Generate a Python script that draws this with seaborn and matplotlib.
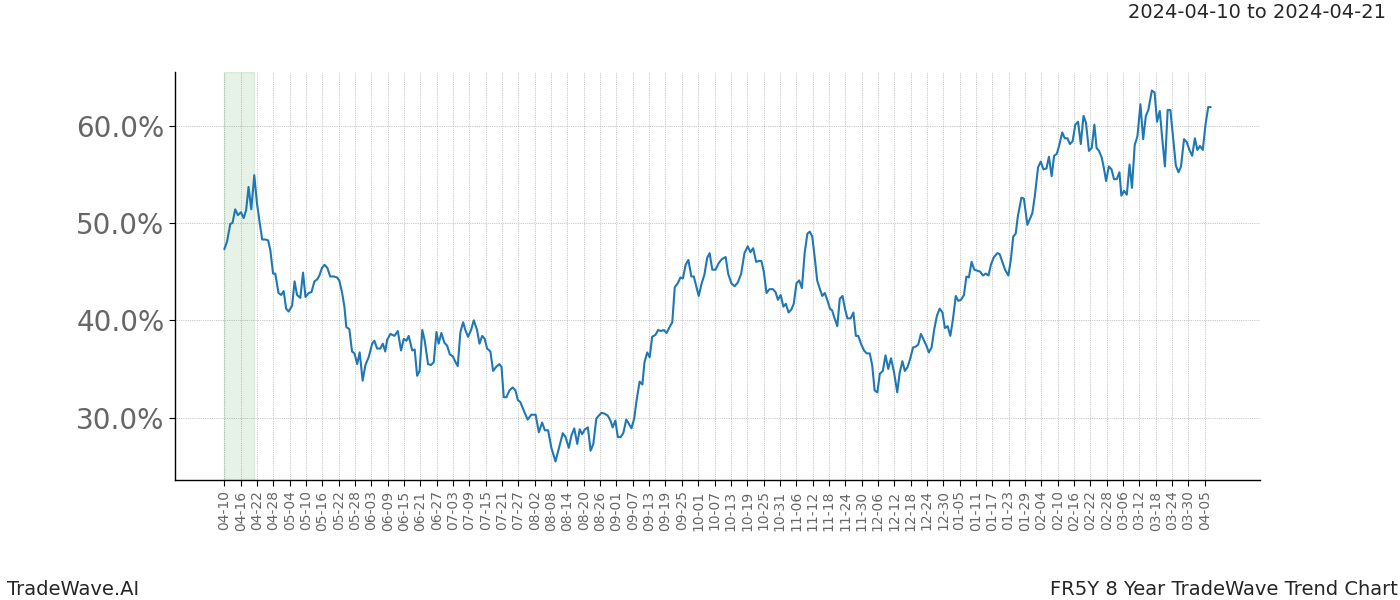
import matplotlib
matplotlib.use("Agg")
import matplotlib.pyplot as plt
import matplotlib.dates as mdates
import matplotlib.ticker as mticker
import seaborn as sns
import pandas as pd
import numpy as np

start_date = "2024-04-10"
highlight_start = "2024-04-10"
highlight_end = "2024-04-21"
title_text = "2024-04-10 to 2024-04-21"
left_note = "TradeWave.AI"
right_note = "FR5Y 8 Year TradeWave Trend Chart"

day_offsets = [
    0, 1.0, 2.2, 3.0, 4.0, 5.0, 6.1, 7.1, 8.0, 8.9, 9.9, 11.0, 12.0, 13.0, 13.9, 15.1,
    16.1, 16.9, 17.9, 18.7, 19.9, 20.9, 21.8, 22.7, 23.6, 24.9, 25.8, 26.7, 27.9, 28.9,
    29.8, 31.0, 32.0, 33.1, 34.1, 34.9, 35.9, 36.8, 37.8, 38.9, 40.2, 41.4, 42.2, 43.2,
    44.1, 44.8, 45.9, 46.9, 47.8, 48.8, 49.7, 50.8, 51.8, 53.0, 54.3, 55.1, 56.1, 57.3,
    58.2, 59.1, 59.8, 61.0, 62.5, 63.7, 64.9, 65.9, 66.9, 67.7, 69.0, 69.9, 70.8, 71.7,
    72.7, 73.6, 74.8, 75.9, 76.9, 77.9, 78.7, 79.7, 80.8, 81.8, 82.8, 83.9, 84.9, 85.7,
    86.7, 87.7, 88.5, 89.5, 90.6, 91.6, 92.8, 93.7, 94.7, 95.6, 96.5, 97.7, 98.7, 99.8,
    101.0, 101.8, 102.6, 103.6, 104.7, 105.9, 106.9, 107.8, 108.7, 110.0, 111.4, 112.7,
    114.3, 115.5, 116.7, 117.7, 118.9, 120.1, 121.6, 122.8, 124.3, 125.3, 126.5, 127.5,
    128.5, 129.6, 130.5, 131.4, 132.4, 133.5, 134.5, 135.5, 136.6, 137.5, 138.5, 139.7,
    140.8, 141.8, 142.6, 143.6, 144.5, 145.5, 146.5, 147.6, 148.5, 149.5, 150.5, 151.4,
    152.5, 153.5, 154.3, 155.3, 156.2, 157.1, 158.3, 159.3, 160.4, 161.4, 162.4, 163.5,
    164.5, 165.4, 166.5, 167.5, 168.4, 169.4, 170.4, 171.5, 172.4, 173.3, 174.2, 175.2,
    176.3, 177.3, 178.2, 179.2, 180.4, 181.6, 182.8, 184.1, 185.0, 186.2, 187.4, 188.6,
    189.8, 191.0, 192.2, 193.2, 194.2, 195.3, 196.3, 197.2, 198.1, 199.1, 200.2, 201.4,
    202.4, 203.3, 204.3, 205.3, 206.2, 207.2, 208.2, 209.1, 210.1, 211.1, 212.1, 213.1,
    214.1, 215.0, 215.9, 216.9, 217.7, 218.7, 219.6, 220.5, 221.4, 222.4, 223.2, 224.1,
    225.1, 226.0, 227.0, 227.9, 228.8, 230.0, 231.0, 231.9, 232.8, 233.9, 234.9, 235.9,
    237.0, 237.9, 238.8, 239.8, 240.7, 241.8, 242.8, 243.8, 244.8, 245.9, 247.1, 248.0,
    249.0, 249.9, 250.9, 251.9, 252.9, 253.9, 254.8, 255.8, 256.8, 257.8, 258.7, 259.7,
    260.7, 261.7, 262.7, 263.7, 264.6, 265.6, 266.6, 267.6, 268.6, 269.5, 270.5, 271.6,
    272.5, 273.4, 274.4, 275.4, 276.5, 277.5, 278.6, 279.6, 280.6, 281.5, 282.6, 283.9,
    284.7, 285.7, 286.7, 287.9, 288.8, 289.7, 290.6, 291.4, 292.7, 293.6, 294.9, 295.8,
    296.7, 297.6, 298.8, 299.8, 300.8, 301.9, 302.8, 303.8, 304.7, 305.7, 306.6, 307.7,
    308.6, 309.6, 310.5, 311.5, 312.5, 313.5, 314.5, 315.5, 316.4, 317.5, 318.5, 319.5,
    320.3, 321.2, 322.2, 323.0, 323.8, 324.8, 325.8, 326.7, 327.7, 328.7, 329.4, 330.4,
    331.4, 332.4, 333.3, 334.3, 335.3, 336.4, 337.4, 338.4, 339.3, 340.6, 341.6, 342.5,
    343.5, 344.5, 345.4, 346.4, 347.4, 348.4, 349.4, 350.4, 351.3, 352.4, 353.4, 354.4,
    355.4, 356.4, 357.3, 358.3, 359.3, 360.3, 361.3, 362.2,
]

values = [
    47.3, 48.1, 49.9, 50.0, 51.4, 50.8, 51.1, 50.5, 51.3, 53.7, 51.4, 54.9, 52.0, 50.0, 48.3, 48.3,
    48.2, 47.2, 44.8, 44.8, 42.8, 42.6, 43.0, 41.2, 40.9, 41.5, 44.0, 42.6, 42.3, 44.9,
    42.4, 42.8, 42.9, 44.0, 44.2, 44.6, 45.4, 45.7, 45.4, 44.5, 44.5, 44.4, 44.1, 42.9,
    41.4, 39.3, 39.1, 36.8, 36.6, 35.5, 36.7, 33.8, 35.4, 36.2, 37.6, 37.9, 37.1, 37.1,
    37.6, 36.8, 38.0, 38.6, 38.4, 38.9, 36.9, 38.1, 37.9, 38.4, 36.9, 37.0, 34.3, 34.8,
    39.0, 37.9, 35.5, 35.4, 35.7, 38.8, 37.6, 38.7, 37.7, 37.4, 36.5, 36.3, 35.7, 35.3,
    38.8, 39.8, 39.0, 38.3, 39.0, 40.0, 39.0, 37.6, 38.4, 38.1, 37.1, 36.8, 34.8, 35.2,
    35.5, 35.2, 32.1, 32.1, 32.8, 33.1, 32.8, 31.8, 31.6, 30.7, 29.8, 30.3,
    30.3, 28.5, 29.5, 28.7, 28.7, 26.9, 25.5, 26.8, 28.4, 28.0, 26.9, 28.2,
    28.9, 27.3, 28.8, 28.3, 28.8, 29.0, 26.6, 27.3, 29.9, 30.2, 30.5, 30.4,
    30.2, 29.7, 29.0, 29.7, 28.0, 28.0, 28.4, 29.8, 29.4, 28.9, 29.9, 31.8,
    33.7, 33.4, 35.7, 36.7, 36.2, 38.3, 38.5, 39.0, 38.9, 39.0, 38.7, 39.3,
    39.8, 43.4, 43.8, 44.4, 44.3, 45.7, 46.2, 44.5, 44.5, 43.5, 42.5, 43.7,
    44.7, 46.4, 46.9, 45.2, 45.2, 45.9, 46.3, 46.5, 44.8, 43.8, 43.5, 43.9,
    44.8, 46.9, 47.6, 47.0, 47.4, 46.0, 46.1, 46.1, 45.0, 42.8, 43.2, 43.2,
    42.9, 42.1, 42.6, 41.4, 41.7, 40.8, 41.1, 41.7, 43.8, 44.1, 43.3, 46.9,
    48.9, 49.1, 48.6, 46.2, 44.1, 43.2, 42.5, 42.8, 42.1, 41.2, 41.0, 40.2,
    39.4, 42.2, 42.5, 41.2, 40.2, 40.2, 40.8, 38.4, 38.4, 37.5, 36.9, 36.6,
    36.6, 35.4, 32.8, 32.6, 34.5, 34.8, 36.4, 35.0, 36.1, 34.7, 32.6, 34.6,
    35.8, 34.8, 35.2, 36.1, 37.2, 37.3, 37.5, 38.6, 38.0, 37.4, 36.7, 37.2,
    39.1, 40.5, 41.2, 40.8, 39.2, 39.4, 38.4, 40.2, 42.5, 42.0, 42.1, 42.6,
    44.5, 44.4, 46.0, 45.2, 45.1, 45.0, 44.6, 44.8, 44.6, 45.7, 46.5, 46.9,
    46.8, 46.0, 45.2, 44.6, 46.2, 48.6, 48.9, 50.7, 52.6, 52.5, 49.8, 50.4,
    51.0, 52.7, 55.7, 56.3, 55.5, 55.6, 56.8, 54.8, 56.9, 57.1, 58.0, 59.3,
    58.7, 58.7, 58.1, 58.4, 60.1, 60.4, 58.1, 61.0, 60.3, 57.4, 57.7, 60.1,
    57.7, 57.4, 56.7, 55.6, 54.3, 55.8, 55.5, 54.5, 54.5, 55.2, 52.8, 53.3,
    52.9, 56.0, 53.6, 58.0, 58.9, 62.2, 58.6, 61.0, 61.6, 63.6, 63.4, 60.4,
    61.5, 58.4, 55.8, 61.6, 61.6, 58.7, 55.9, 55.2, 55.8, 58.6, 58.3, 57.5,
    56.9, 58.7, 57.5, 57.9, 57.5, 60.1, 61.9, 61.9,
]

y_ticks = [30, 40, 50, 60]
x_tick_start = "2024-04-10"
x_tick_end = "2025-04-05"
x_tick_step_days = 6

dates = pd.Timestamp(start_date) + pd.to_timedelta(np.array(day_offsets), unit="D")
df = pd.DataFrame({"date": dates, "value": values})

sns.set_style("white")
plt.rcParams["font.family"] = ["DejaVu Sans"]

fig, ax = plt.subplots(figsize=(14, 6), dpi=100)
fig.subplots_adjust(left=0.125, right=0.9, top=0.88, bottom=0.2)

ax.axvspan(pd.Timestamp(highlight_start), pd.Timestamp(highlight_end),
           color="green", alpha=0.1)

sns.lineplot(data=df, x="date", y="value", ax=ax, color="#1f77b4",
             linewidth=1.5, sort=False, estimator=None)

xticks = pd.date_range(x_tick_start, x_tick_end, freq=f"{x_tick_step_days}D")
ax.set_xticks(xticks)
ax.xaxis.set_major_formatter(mdates.DateFormatter("%m-%d"))
plt.setp(ax.get_xticklabels(), rotation=90, fontsize=10, color="#666666")

ax.set_yticks(y_ticks)
ax.yaxis.set_major_formatter(mticker.FuncFormatter(lambda v, p: f"{v:.1f}%"))
plt.setp(ax.get_yticklabels(), fontsize=20, color="#666666")

ax.tick_params(axis="both", which="major", length=4, width=0.8, color="black",
               left=True, bottom=True)
ax.grid(True, linestyle=":", color="gray", linewidth=0.5, alpha=0.8)
ax.set_xlabel("")
ax.set_ylabel("")
sns.despine(ax=ax)
for s in ["left", "bottom"]:
    ax.spines[s].set_color("black")
    ax.spines[s].set_linewidth(1.0)

fig.text(0.99, 0.995, title_text, ha="right", va="top", fontsize=14)
fig.text(0.005, 0.002, left_note, ha="left", va="bottom", fontsize=14)
fig.text(0.9985, 0.002, right_note, ha="right", va="bottom", fontsize=14)

fig.savefig("out.png", dpi=100)
